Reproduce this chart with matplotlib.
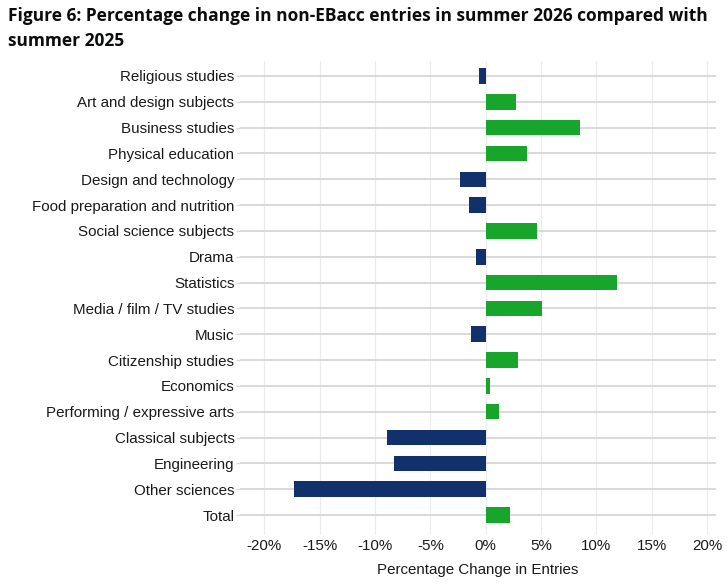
import numpy as np
import matplotlib.pyplot as plt

# Data (percentage change, 2025 -> 2026)
subjects = ['Religious studies', 'Art and design subjects', 'Business studies',
            'Physical education', 'Design and technology',
            'Food preparation and nutrition', 'Social science subjects', 'Drama',
            'Statistics', 'Media / film / TV studies', 'Music',
            'Citizenship studies', 'Economics', 'Performing / expressive arts',
            'Classical subjects', 'Engineering', 'Other sciences', 'Total']
pct_change = [-0.6, 2.7, 8.5, 3.7, -2.3, -1.5, 4.6, -0.9, 11.9, 5.1, -1.3,
              2.9, 0.4, 1.2, -8.9, -8.3, -17.3, 2.2]
x_ticks = [-20, -15, -10, -5, 0, 5, 10, 15, 20]

navy = '#12306b'
green = '#17a62b'
text_col = '#1a1a1a'

plt.rcParams['font.family'] = ['Liberation Sans', 'DejaVu Sans']

fig = plt.figure(figsize=(7.28, 5.84), dpi=100)
ax = fig.add_axes([240 / 728, 1 - 530.5 / 584, 476 / 728, 470 / 584])

y = np.arange(len(subjects))
colors = [green if v >= 0 else navy for v in pct_change]
ax.barh(y, pct_change, height=0.6, color=colors, zorder=3)

ax.set_ylim(len(subjects) - 0.4, -0.6)
ax.set_xlim(-22.2, 20.8)
ax.set_yticks(y)
ax.set_yticklabels(subjects, fontsize=10.9, color=text_col)
ax.set_xticks(x_ticks)
ax.set_xticklabels([f'{t}%' for t in x_ticks], fontsize=10.9, color=text_col)

ax.grid(axis='x', color='#ebebeb', linewidth=0.8, zorder=0)
ax.grid(axis='y', color='#d9d9d9', linewidth=1.4, zorder=0)
ax.tick_params(axis='y', length=3, width=1, color='#d9d9d9', pad=1)
ax.tick_params(axis='x', length=2, width=0.8, color='#ebebeb', pad=4)
for s in ax.spines.values():
    s.set_visible(False)

ax.set_xlabel('Percentage Change in Entries', fontsize=10.9, color=text_col, labelpad=7)

title_kw = dict(fontsize=12.5, fontweight='bold', family='Open Sans', color='#0b0c0c', va='baseline')
fig.text(0.011, 1 - 21 / 584,
         'Figure 6: Percentage change in non-EBacc entries in summer 2026 compared with', **title_kw)
fig.text(0.011, 1 - 46.5 / 584, 'summer 2025', **title_kw)

fig.savefig('out.png', dpi=100)
